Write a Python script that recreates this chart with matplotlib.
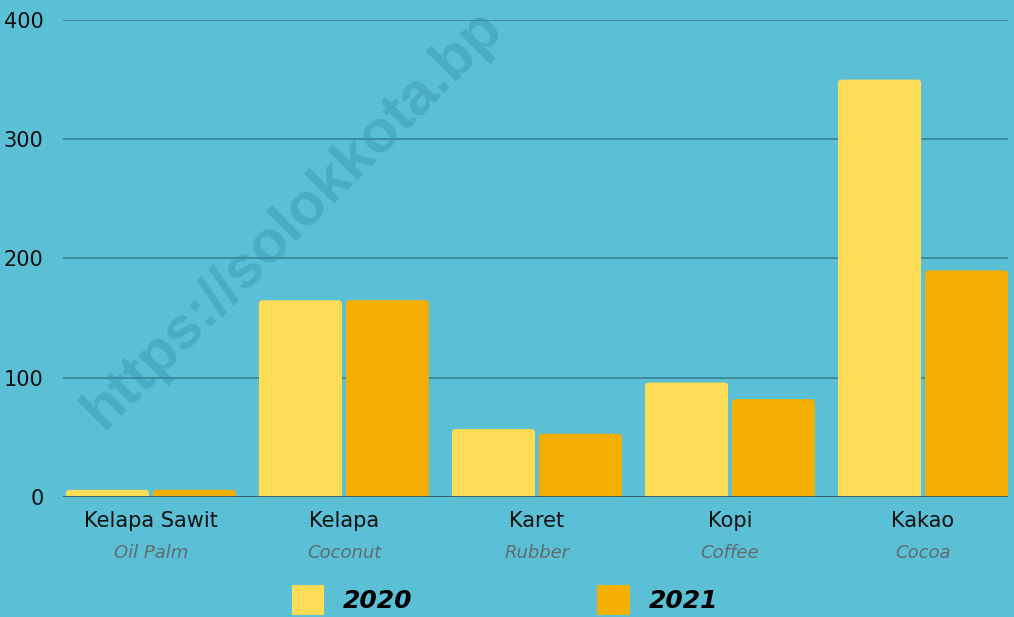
import matplotlib
matplotlib.use("Agg")
import matplotlib.pyplot as plt
from matplotlib.patches import FancyBboxPatch, Patch
import numpy as np

crops = ["Kelapa Sawit", "Kelapa", "Karet", "Kopi", "Kakao"]
crops_en = ["Oil Palm", "Coconut", "Rubber", "Coffee", "Cocoa"]
years = ["2020", "2021"]
v2020 = [6, 165, 57, 96, 350]
v2021 = [6, 165, 53, 82, 190]
yticks = [0, 100, 200, 300, 400]

bg = "#5bc0d5"
c2020 = "#ffdc56"
c2021 = "#f5af02"

fig = plt.figure(figsize=(10.14, 6.17), dpi=100)
fig.patch.set_facecolor(bg)
ax = fig.add_axes([0.062, 0.1945, 0.932, 0.7731])
ax.set_facecolor(bg)
ax.set_xlim(-0.456, 4.44)
ax.set_ylim(0, 400)

x = np.arange(len(crops))
w = 0.43
off = 0.225

# bars with slightly rounded tops
def rounded_bars(xs, vals, color):
    bars = ax.bar(xs, vals, w, color=color, zorder=3)
    for r in bars:
        r.set_visible(False)
        p = FancyBboxPatch((r.get_x(), -6), r.get_width(), r.get_height() + 6,
                           boxstyle="round,pad=0,rounding_size=0.02",
                           mutation_aspect=160, fc=color, ec="none", zorder=3)
        ax.add_patch(p)
    return bars

rounded_bars(x - off, v2020, c2020)
rounded_bars(x + off, v2021, c2021)

ax.set_yticks(yticks)
ax.set_yticklabels([str(t) for t in yticks], fontsize=15, color="#111111")
ax.grid(axis="y", color="#3b8796", linewidth=1.3, zorder=1)
ax.axhline(0, color="#2b5e6a", linewidth=2, zorder=4)
for s in ax.spines.values():
    s.set_visible(False)
ax.tick_params(axis="y", length=0, pad=14)
ax.tick_params(axis="x", length=0)
ax.set_xticks(x)
ax.set_xticklabels([""] * len(crops))

for i in range(len(crops)):
    ax.text(x[i], -12, crops[i], ha="center", va="top", fontsize=15,
            color="#111111")
    ax.text(x[i], -39, crops_en[i], ha="center", va="top", fontsize=13,
            color="#5f6b70", style="italic")

# legend
handles = [Patch(fc=c2020, ec="none"), Patch(fc=c2021, ec="none")]
fig.legend(handles, years, loc="center", ncol=2,
           bbox_to_anchor=(0.498, 0.028), frameon=False,
           handlelength=1.3, handleheight=1.45, columnspacing=7.4,
           handletextpad=0.75,
           prop={"size": 18, "weight": "bold", "style": "italic"})

# watermark
ax.text(0.1016, 0.303, "https://solokkota.bp", rotation=45,
        rotation_mode="anchor", ha="left", va="baseline", fontsize=43,
        fontweight="bold", family="Liberation Sans", color="#2f8fa8",
        alpha=0.38, zorder=2, transform=fig.transFigure, clip_on=False)

fig.savefig("out.png", dpi=100, facecolor=bg)
